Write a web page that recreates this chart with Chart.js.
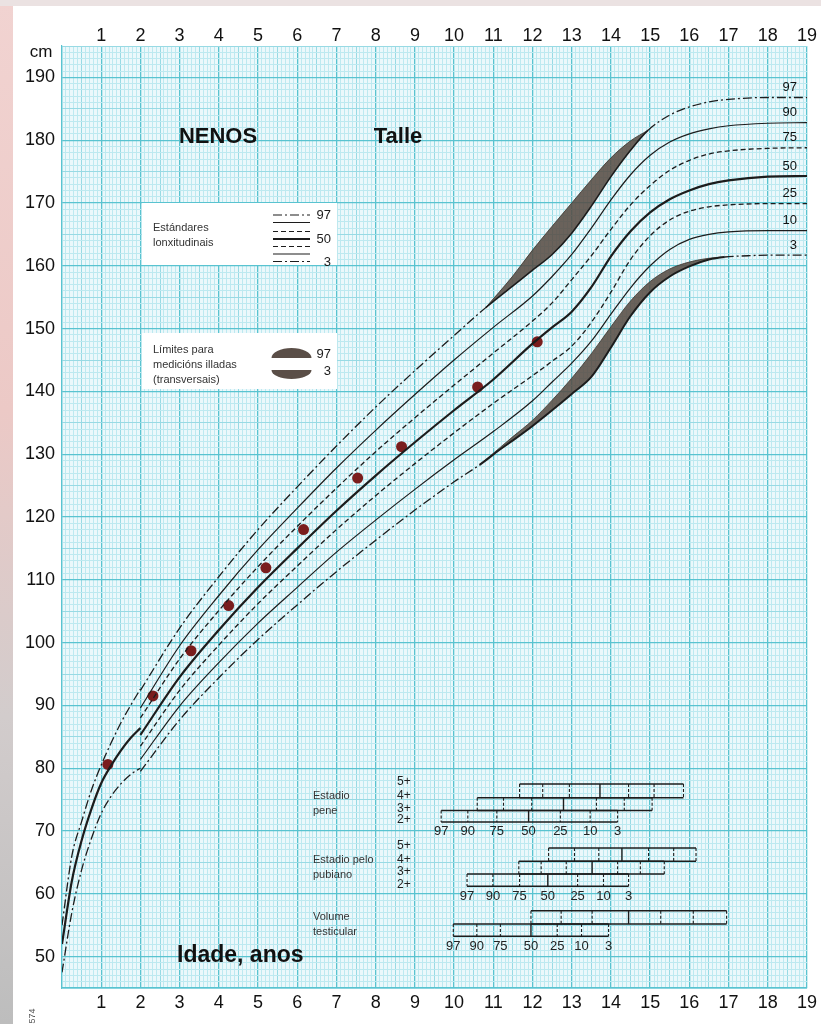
<!DOCTYPE html>
<html>
<head>
<meta charset="utf-8">
<script src="https://cdn.jsdelivr.net/npm/chart.js@4.4.1/dist/chart.umd.min.js"></script>
<style>
  html, body { margin: 0; padding: 0; background: #fff; }
  body { width: 821px; height: 1024px; position: relative; overflow: hidden; }
  #edge { position: absolute; left: 0; top: 0; width: 13px; height: 1024px;
          background: linear-gradient(#f1d3d1, #ecc9c6 40%, #d2cccc 70%, #bdbdbd); }
  #topEdge { position: absolute; left: 0; top: 0; width: 821px; height: 6px; background: #ebe2e2; }
  #c { position: absolute; left: 0; top: 0; }
</style>
</head>
<body>
<div id="edge"></div>
<div id="topEdge"></div>
<canvas id="c" width="821" height="1024"></canvas>
<script>
document.addEventListener("DOMContentLoaded", () => {

  /* =========================
   DATA (ages in years, height in cm)
========================= */

  const ageTicks = [1, 2, 3, 4, 5, 6, 7, 8, 9, 10, 11, 12, 13, 14, 15, 16, 17, 18, 19];
  const cmTicks = [50, 60, 70, 80, 90, 100, 110, 120, 130, 140, 150, 160, 170, 180, 190];

  // 0-2 years (lying length)
  const infantAges = [0, 0.25, 0.5, 0.75, 1, 1.25, 1.5, 1.75, 2];
  const p97Infant = [55, 66, 71.5, 76.5, 80.5, 84, 87.2, 90, 92.6];
  const p50Infant = [52, 62, 68.5, 73.5, 77.6, 80.4, 82.8, 84.8, 86.4];
  const p3Infant = [47.5, 57, 63.8, 68.8, 72.8, 75.5, 77.5, 79, 80];

  // 2-19 years (standing height)
  const ages = [2, 3, 4, 5, 6, 7, 8, 9, 10, 11, 12, 12.5, 13, 13.5, 14, 14.5, 15, 15.5, 16, 16.5, 17, 18, 19];
  const p90 = [89.6, 99.5, 107.5, 114.8, 121.4, 127.8, 133.8, 139.5, 145, 150.2, 155.2, 158.3, 161.8, 166, 170.5, 174.5, 177.6, 179.7, 181, 181.8, 182.3, 182.7, 182.8];
  const p75 = [88, 97.4, 105.1, 112.1, 118.5, 124.6, 130.4, 135.8, 141, 146.1, 151.2, 154.1, 157.8, 161.6, 165.8, 169.7, 172.8, 175.2, 176.8, 177.8, 178.3, 178.7, 178.8];
  const p50 = [85.3, 94.5, 102, 108.8, 115, 121, 126.6, 131.9, 137, 141.9, 147.6, 150.2, 152.7, 156.6, 161.5, 165.5, 168.5, 170.6, 172, 173, 173.6, 174.2, 174.3];
  const p25 = [83.5, 92.4, 99.6, 106.2, 112.2, 118, 123.4, 128.5, 133.4, 138.1, 142.5, 144.8, 147.2, 151, 155.8, 161, 164.8, 167.3, 168.7, 169.4, 169.7, 169.9, 169.9];
  const p10 = [81.4, 89.9, 96.8, 103.1, 108.8, 114.4, 119.5, 124.4, 129.1, 133.6, 138.5, 141.5, 144.5, 148, 152.3, 156.5, 160, 162.6, 164.2, 165, 165.4, 165.6, 165.6];

  const ages97 = [2, 3, 4, 5, 6, 7, 8, 9, 10, 10.8, 11.5, 12, 12.5, 13, 13.5, 14, 14.5, 14.95, 15.5, 16, 16.5, 17, 18, 19];
  const p97 = [92.4, 102.3, 110.5, 118, 124.8, 131.3, 137.5, 143.3, 148.9, 153.3, 156.8, 159.3, 161.8, 165.2, 169.5, 174.2, 178.4, 181.6, 184, 185.3, 186.1, 186.5, 186.8, 186.8];
  const band97Ages = [10.8, 11.5, 12, 12.5, 13, 13.5, 14, 14.5, 14.95];
  const band97Upper = [153.3, 158.4, 162.5, 166.3, 170, 173.7, 177.2, 179.9, 181.6];

  const ages3 = [2, 3, 4, 5, 6, 7, 8, 9, 10, 10.65, 11.16, 11.5, 12, 12.5, 13, 13.5, 14, 14.5, 15, 15.5, 16, 16.5, 16.9, 17.5, 18, 19];
  const p3 = [79.5, 87.7, 94.4, 100.5, 106, 111.3, 116.3, 121.1, 125.6, 128.3, 130.7, 132.2, 134.5, 137, 139.6, 142.3, 147, 152, 155.8, 158.3, 159.9, 161, 161.4, 161.6, 161.7, 161.7];
  const band3Ages = [10.65, 11.16, 11.5, 12, 12.5, 13, 13.5, 14, 14.5, 15, 15.5, 16, 16.5, 16.9];
  const band3Upper = [128.3, 131, 132.8, 135.4, 138.6, 142.1, 146, 150.3, 154.4, 157.5, 159.5, 160.6, 161.2, 161.4];

  // measurements of the child
  const childAges = [1.17, 2.32, 3.29, 4.25, 5.2, 6.16, 7.54, 8.66, 10.6, 12.12];
  const childHeights = [80.6, 91.5, 98.7, 105.9, 111.9, 118, 126.2, 131.2, 140.7, 147.9];

  // pubertal stages: ages at percentiles 97, 90, 75, 50, 25, 10, 3
  const stagePercentiles = ["97", "90", "75", "50", "25", "10", "3"];
  const penis3 = [9.67, 10.35, 11.09, 11.9, 12.71, 13.47, 14.17];
  const penis4 = [10.59, 11.26, 11.98, 12.79, 13.63, 14.34, 15.05];
  const penis5 = [11.67, 12.26, 12.94, 13.72, 14.45, 15.1, 15.85];
  const pubic3 = [10.33, 10.99, 11.67, 12.39, 13.15, 13.81, 14.45];
  const pubic4 = [11.65, 12.22, 12.86, 13.52, 14.17, 14.75, 15.36];
  const pubic5 = [12.41, 13.07, 13.69, 14.28, 14.96, 15.6, 16.17];
  const testisLow = [9.98, 10.58, 11.18, 11.96, 12.63, 13.25, 13.94];
  const testisHigh = [11.96, 12.73, 13.52, 14.45, 15.27, 16.1, 16.95];

  /* =========================
   STYLE
========================= */

  const FONT = '"Liberation Sans", Arial, Helvetica, sans-serif';
  const INK = "#1c1c1c";
  const DASH_DOT = [9, 3, 2, 3];
  const DASHED = [5, 3];
  const SHADE = "rgba(88, 76, 68, 0.88)";

  const pts = (xs, ys) => xs.map((a, i) => ({ x: a, y: ys[i] }));

  function curve(xs, ys, extra) {
    return Object.assign({
      type: "line",
      data: pts(xs, ys),
      borderColor: INK,
      borderWidth: 1.2,
      pointRadius: 0,
      fill: false,
      cubicInterpolationMode: "monotone"
    }, extra);
  }

  const inRange = (c, xs) => c.p0.parsed.x >= xs[0] - 1e-6 && c.p1.parsed.x <= xs[xs.length - 1] + 1e-6;

  const datasets = [
    curve(infantAges, p97Infant, { borderDash: DASH_DOT, borderWidth: 1.3 }),
    curve(infantAges, p50Infant, { borderWidth: 2.2 }),
    curve(infantAges, p3Infant, { borderDash: DASH_DOT, borderWidth: 1.3 }),
    curve(ages97, p97, {
      borderDash: DASH_DOT, borderWidth: 1.3,
      segment: {
        borderDash: c => inRange(c, band97Ages) ? [] : DASH_DOT,
        borderWidth: c => inRange(c, band97Ages) ? 1.6 : 1.3
      }
    }),
    curve(ages, p90, {}),
    curve(ages, p75, { borderDash: DASHED, borderWidth: 1.3 }),
    curve(ages, p50, { borderWidth: 2.2 }),
    curve(ages, p25, { borderDash: DASHED, borderWidth: 1.3 }),
    curve(ages, p10, {}),
    curve(ages3, p3, {
      borderDash: DASH_DOT, borderWidth: 1.3,
      segment: {
        borderDash: c => inRange(c, band3Ages) ? [] : DASH_DOT,
        borderWidth: c => inRange(c, band3Ages) ? 2 : 1.3
      }
    })
  ];
  const idx97 = 3, idx3 = 9;

  datasets.push(curve(band97Ages, band97Upper, {
    borderWidth: 0.8, borderColor: "#3b332d", backgroundColor: SHADE, fill: { target: idx97 }
  }));
  datasets.push(curve(band3Ages, band3Upper, {
    borderWidth: 0.8, borderColor: "#3b332d", backgroundColor: SHADE, fill: { target: idx3 }
  }));
  datasets.push({
    type: "line",
    data: pts(childAges, childHeights),
    showLine: false,
    pointRadius: 5.5,
    pointBackgroundColor: "#7a1d1d",
    pointBorderWidth: 0
  });

  /* =========================
   PLUGINS
========================= */

  const isWhole = v => Math.abs(v - Math.round(v)) < 1e-6;
  const isHalf = v => Math.abs(v * 2 - Math.round(v * 2)) < 1e-6;

  const paper = {
    id: "paper",
    beforeDraw(chart) {
      const { ctx, chartArea: a } = chart;
      ctx.save();
      ctx.fillStyle = "#ebf8fb";
      ctx.fillRect(a.left, a.top, a.right - a.left, a.bottom - a.top);
      ctx.restore();
    }
  };

  const legendBoxes = {
    id: "legendBoxes",
    beforeDatasetsDraw(chart) {
      const ctx = chart.ctx;
      ctx.save();
      ctx.fillStyle = "#ffffff";
      ctx.fillRect(142, 203, 195, 62);
      ctx.fillRect(142, 333, 195, 56);

      ctx.fillStyle = "#333";
      ctx.font = "11px " + FONT;
      ctx.textBaseline = "middle";
      ctx.textAlign = "left";
      ctx.fillText("Estándares", 153, 228);
      ctx.fillText("lonxitudinais", 153, 243);
      ctx.fillText("Límites para", 153, 350);
      ctx.fillText("medicións illadas", 153, 365);
      ctx.fillText("(transversais)", 153, 380);

      const samples = [
        [215, DASH_DOT, 1.2], [222.5, [], 1.2], [231.5, DASHED, 1.2], [239, [], 2.2],
        [246.5, DASHED, 1.2], [254, [], 1.2], [261.5, DASH_DOT, 1.2]
      ];
      ctx.strokeStyle = INK;
      samples.forEach(([yy, dash, w]) => {
        ctx.setLineDash(dash);
        ctx.lineWidth = w;
        ctx.beginPath();
        ctx.moveTo(273, yy);
        ctx.lineTo(310, yy);
        ctx.stroke();
      });
      ctx.setLineDash([]);

      ctx.fillStyle = INK;
      ctx.font = "13px " + FONT;
      ctx.textAlign = "right";
      ctx.fillText("97", 331, 215);
      ctx.fillText("50", 331, 239);
      ctx.fillText("3", 331, 262);
      ctx.fillText("97", 331, 354);
      ctx.fillText("3", 331, 371);

      ctx.fillStyle = "#5a4e47";
      ctx.beginPath();
      ctx.ellipse(291.5, 358, 20, 10, 0, Math.PI, 2 * Math.PI);
      ctx.closePath();
      ctx.fill();
      ctx.beginPath();
      ctx.ellipse(291.5, 370, 20, 9, 0, 0, Math.PI);
      ctx.closePath();
      ctx.fill();
      ctx.restore();
    }
  };

  const stageGroups = [
    { title: ["Estadio", "pene"], stages: ["5+", "4+", "3+", "2+"], rows: [penis5, penis4, penis3], edges: [77.5, 75.3, 73.25, 71.45] },
    { title: ["Estadio pelo", "pubiano"], stages: ["5+", "4+", "3+", "2+"], rows: [pubic5, pubic4, pubic3], edges: [67.3, 65.17, 63.16, 61.19] },
    { title: ["Volume", "testicular"], stages: [], rows: [testisHigh, testisLow], edges: [57.32, 55.21, 53.23] }
  ];

  const overlay = {
    id: "overlay",
    afterDatasetsDraw(chart) {
      const { ctx, scales: { x, y } } = chart;
      ctx.save();

      // titles
      ctx.fillStyle = "#111";
      ctx.textBaseline = "middle";
      ctx.textAlign = "center";
      ctx.font = "bold 22px " + FONT;
      ctx.fillText("NENOS", 218, 137);
      ctx.fillText("Talle", 398, 137);
      ctx.textAlign = "left";
      ctx.font = "bold 23px " + FONT;
      ctx.fillText("Idade, anos", 177, 956);

      // percentile names at the right end
      ctx.font = "13px " + FONT;
      ctx.textAlign = "right";
      const ends = [["97", p97], ["90", p90], ["75", p75], ["50", p50], ["25", p25], ["10", p10], ["3", p3]];
      ends.forEach(([name, arr]) => {
        ctx.fillText(name, 797, y.getPixelForValue(arr[arr.length - 1]) - 10);
      });

      // pubertal stage bars
      ctx.strokeStyle = INK;
      stageGroups.forEach(g => {
        const ey = g.edges.map(v => y.getPixelForValue(v));
        g.rows.forEach((row, r) => {
          const top = ey[r], bot = ey[r + 1];
          const xs = row.map(v => x.getPixelForValue(v));
          ctx.setLineDash([]);
          ctx.lineWidth = 1.5;
          ctx.beginPath();
          ctx.moveTo(xs[0], top); ctx.lineTo(xs[6], top);
          ctx.moveTo(xs[0], bot); ctx.lineTo(xs[6], bot);
          ctx.stroke();
          xs.forEach((px, i) => {
            ctx.setLineDash(i === 3 ? [] : [3, 2]);
            ctx.lineWidth = i === 3 ? 1.4 : 1.1;
            ctx.beginPath();
            ctx.moveTo(px, top); ctx.lineTo(px, bot);
            ctx.stroke();
          });
        });
        ctx.setLineDash([]);

        ctx.fillStyle = "#222";
        ctx.font = "12px " + FONT;
        ctx.textAlign = "left";
        g.stages.forEach((s, i) => ctx.fillText(s, 397, ey[i] - 2));

        const bottomRow = g.rows[g.rows.length - 1];
        ctx.font = "13px " + FONT;
        ctx.textAlign = "center";
        bottomRow.forEach((v, i) => {
          ctx.fillText(stagePercentiles[i], x.getPixelForValue(v), ey[ey.length - 1] + 10);
        });

        const mid = (ey[0] + ey[ey.length - 1]) / 2;
        ctx.fillStyle = "#333";
        ctx.font = "11px " + FONT;
        ctx.textAlign = "left";
        ctx.fillText(g.title[0], 313, mid - 7);
        ctx.fillText(g.title[1], 313, mid + 8);
      });

      // axis unit
      ctx.fillStyle = "#111";
      ctx.font = "17px " + FONT;
      ctx.textAlign = "center";
      ctx.fillText("cm", 41, 52);

      // print code
      ctx.translate(33, 1016);
      ctx.rotate(-Math.PI / 2);
      ctx.font = "9px " + FONT;
      ctx.fillStyle = "#555";
      ctx.fillText("574", 0, 0);
      ctx.restore();
    }
  };

  /* =========================
   CHART
========================= */

  const tickFont = { family: FONT, size: 18 };
  const MAJOR = "#59c3d0", MID = "#98dae4", MINOR = "#bde9f0";

  new Chart(document.getElementById("c"), {
    type: "line",
    data: { datasets },
    options: {
      responsive: false,
      animation: false,
      events: [],
      layout: { padding: { left: 0, right: 13, top: 0, bottom: 0 } },
      plugins: {
        legend: { display: false },
        tooltip: { enabled: false }
      },
      scales: {
        x: {
          type: "linear",
          position: "bottom",
          min: 0,
          max: 19,
          border: { color: MAJOR, width: 1.2 },
          grid: {
            drawTicks: false,
            color: c => isWhole(c.tick.value) ? MAJOR : isHalf(c.tick.value) ? MID : MINOR,
            lineWidth: c => isWhole(c.tick.value) ? 1.3 : 1
          },
          ticks: {
            stepSize: 0.1,
            autoSkip: false,
            maxRotation: 0,
            padding: 4,
            color: "#111",
            font: tickFont,
            callback: v => ageTicks.includes(Math.round(v)) && isWhole(v) ? String(Math.round(v)) : ""
          },
          afterFit: s => { s.height = 36; }
        },
        xTop: {
          type: "linear",
          position: "top",
          min: 0,
          max: 19,
          border: { display: false },
          grid: { display: false, drawTicks: false },
          ticks: {
            stepSize: 1,
            autoSkip: false,
            maxRotation: 0,
            padding: -1,
            color: "#111",
            font: tickFont,
            callback: v => ageTicks.includes(v) ? String(v) : ""
          },
          afterFit: s => { s.height = 46; }
        },
        y: {
          type: "linear",
          min: 45,
          max: 195,
          border: { color: MAJOR, width: 1.2 },
          grid: {
            drawTicks: false,
            color: c => c.tick.value % 10 === 0 ? MAJOR : c.tick.value % 5 === 0 ? MID : MINOR,
            lineWidth: c => c.tick.value % 10 === 0 ? 1.3 : 1
          },
          ticks: {
            stepSize: 1,
            autoSkip: false,
            padding: 7,
            color: "#111",
            font: tickFont,
            callback: v => cmTicks.includes(v) ? String(v) : ""
          },
          afterFit: s => { s.width = 62; }
        }
      }
    },
    plugins: [paper, legendBoxes, overlay]
  });

});
</script>
</body>
</html>
